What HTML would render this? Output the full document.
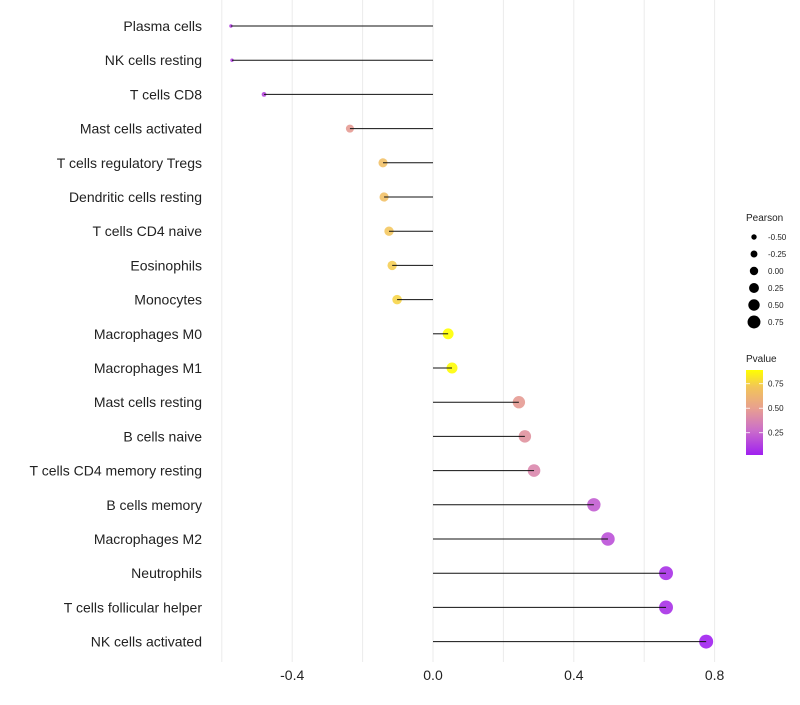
<!DOCTYPE html>
<html><head><meta charset="utf-8"><style>
body{margin:0;background:#fff;font-family:"Liberation Sans",sans-serif}
</style></head><body>
<svg id="chart" width="800" height="700" xmlns="http://www.w3.org/2000/svg" font-family="Liberation Sans, sans-serif">
<g id="grid"></g>
<g id="dots"></g>
<g id="marks"></g>
<g id="ylabels"></g>
<g id="xlabels"></g>
<g id="legend">
<defs><linearGradient id="pg" x1="0" y1="1" x2="0" y2="0">
<stop offset="0" stop-color="#a020f0"/><stop offset="0.3" stop-color="#cc70c8"/><stop offset="0.55" stop-color="#e8a090"/><stop offset="0.8" stop-color="#f2c558"/><stop offset="1" stop-color="#ffff00"/></linearGradient></defs>
</g>
</svg>
<script>
const categories=["Plasma cells","NK cells resting","T cells CD8","Mast cells activated","T cells regulatory  Tregs ","Dendritic cells resting","T cells CD4 naive","Eosinophils","Monocytes","Macrophages M0","Macrophages M1","Mast cells resting","B cells naive","T cells CD4 memory resting","B cells memory","Macrophages M2","Neutrophils","T cells follicular helper","NK cells activated"];
const pearson=[-0.574,-0.571,-0.48,-0.236,-0.142,-0.139,-0.125,-0.116,-0.102,0.043,0.054,0.244,0.261,0.287,0.457,0.497,0.662,0.662,0.776];
const pvalue=[0.12,0.12,0.15,0.47,0.68,0.68,0.72,0.74,0.76,0.9,0.88,0.47,0.43,0.38,0.22,0.18,0.08,0.08,0.03];
const xTicks=[-0.4,0.0,0.4,0.8];
const xGrid=[-0.6,-0.4,-0.2,0,0.2,0.4,0.6,0.8];
const sizeLegend=[-0.5,-0.25,0,0.25,0.5,0.75];
const pTicks=[0.75,0.5,0.25];
const NS="http://www.w3.org/2000/svg";
const x=v=>433+v*352;
const y=i=>26+i*34.2;
const r=v=>{const t=(0.776-v)/1.35;return 7-5.3*t*t;};
const rl=v=>4.5+3*v;
function lerp(a,b,t){return a.map((c,i)=>Math.round(c+(b[i]-c)*t));}
const stops=[[0.026,[160,32,240]],[0.28,[204,112,200]],[0.5,[234,162,140]],[0.72,[244,200,96]],[0.89,[255,255,0]]];
function col(p){p=Math.max(0.026,Math.min(0.89,p));for(let k=0;k<stops.length-1;k++){if(p<=stops[k+1][0]){const t=(p-stops[k][0])/(stops[k+1][0]-stops[k][0]);const c=lerp(stops[k][1],stops[k+1][1],t);return`rgb(${c})`;}}return"rgb(255,255,0)";}
function mk(tag,attrs,parent){const e=document.createElementNS(NS,tag);for(const k in attrs)e.setAttribute(k,attrs[k]);document.getElementById(parent).appendChild(e);return e;}
xGrid.forEach(v=>{const l=mk("line",{x1:x(v),x2:x(v),y1:0,y2:662,stroke:"#ebebeb","stroke-width":1},"grid");

});
xTicks.forEach(v=>{const t=mk("text",{x:x(v),y:680,"font-size":14,"text-anchor":"middle",fill:"#222"},"xlabels");t.textContent=v.toFixed(1);

});
categories.forEach((c,i)=>{
const t=mk("text",{x:202,y:y(i)+5,"font-size":14,"text-anchor":"end",fill:"#222"},"ylabels");t.textContent=c;


const d=mk("circle",{cx:x(pearson[i]),cy:y(i),r:r(pearson[i]),fill:col(pvalue[i]),"fill-opacity":0.9},"dots");


const l=mk("line",{x1:x(0),x2:x(pearson[i]),y1:y(i),y2:y(i),stroke:"#111","stroke-width":1},"marks");


});
let t=mk("text",{x:746,y:221,"font-size":10,fill:"#222"},"legend");t.textContent="Pearson";


sizeLegend.forEach((v,k)=>{const cy=237+k*17;
const c=mk("circle",{cx:754,cy:cy,r:rl(v)-0.3,fill:"#000"},"legend");


const tx=mk("text",{x:768,y:cy+3,"font-size":8,fill:"#222"},"legend");tx.textContent=v.toFixed(2);

});
t=mk("text",{x:746,y:362,"font-size":10,fill:"#222"},"legend");t.textContent="Pvalue";


const bar=mk("rect",{x:746,y:370,width:17,height:85,fill:"url(#pg)"},"legend");


const py=p=>370+(0.89-p)*98;
pTicks.forEach(p=>{const tx=mk("text",{x:768,y:py(p)+3,"font-size":8,fill:"#222"},"legend");tx.textContent=p.toFixed(2);


[746,759].forEach(xx=>{const tk=mk("line",{x1:xx,x2:xx+4,y1:py(p),y2:py(p),stroke:"#fff","stroke-width":0.8},"legend");

});});
</script>
</body></html>
